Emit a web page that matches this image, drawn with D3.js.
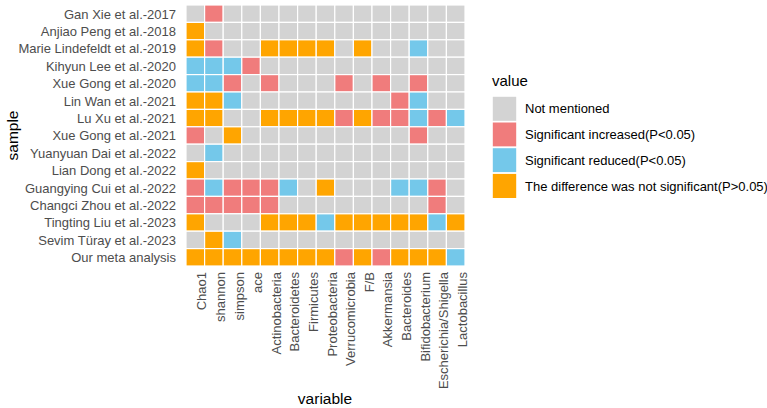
<!DOCTYPE html>
<html>
<head>
<meta charset="utf-8">
<script src="https://cdn.jsdelivr.net/npm/d3@7"></script>
<style>
  body { margin: 0; background: #fff; }
  text { font-family: "Liberation Sans", Arial, sans-serif; }
</style>
</head>
<body>
<svg width="767" height="408"></svg>
<script>
// studies, top to bottom
const samples = [
  "Gan Xie et al.-2017", "Anjiao Peng et al.-2018", "Marie Lindefeldt et al.-2019",
  "Kihyun Lee et al.-2020", "Xue Gong et al.-2020", "Lin Wan et al.-2021",
  "Lu Xu et al.-2021", "Xue Gong et al.-2021", "Yuanyuan Dai et al.-2022",
  "Lian Dong et al.-2022", "Guangying Cui et al.-2022", "Changci Zhou et al.-2022",
  "Tingting Liu et al.-2023", "Sevim Türay et al.-2023", "Our meta analysis"
];
const variables = [
  "Chao1", "shannon", "simpson", "ace", "Actinobacteria", "Bacteroidetes", "Firmicutes",
  "Proteobacteria", "Verrucomicrobia", "F/B", "Akkermansia", "Bacteroides",
  "Bifidobacterium", "Escherichia/Shigella", "Lactobacillus"
];
const levels = [
  "Not mentioned", "Significant increased(P<0.05)",
  "Significant reduced(P<0.05)", "The difference was not significant(P>0.05)"
];
// N = not mentioned, I = increased, R = reduced, D = not significant
const codes = { N: 0, I: 1, R: 2, D: 3 };
const rows = [
  "N I N N N N N N N N N N N N N",
  "D N N N N N N N N N N N N N N",
  "D I N N D D D D N D N N R N N",
  "R R R I N N N N N N N N N N N",
  "R R I N I N N N I N I N I N N",
  "D D R N N N N N N N N I R N N",
  "D D N N D D D D I D I I R I R",
  "I N D N N N N N N N N N I N N",
  "N R N N N N N N N N N N N N N",
  "D N N N N N N N N N N N N N N",
  "I R I I I R N D N N N R R I N",
  "I I I I I N N N N N N N N I N",
  "D N N N D D D R D D D D D R D",
  "N D R N N N N N N N N N N N N",
  "D D D D D D D D I D I D D D R"
];

const data = [];
rows.forEach((r, i) => r.split(" ").forEach((c, j) => {
  data.push({ sample: samples[i], variable: variables[j], value: levels[codes[c]] });
}));

const svg = d3.select("svg");
const x = d3.scaleBand().domain(variables).range([186, 465]);
const y = d3.scaleBand().domain(samples).range([5, 266]);
const color = d3.scaleOrdinal().domain(levels)
  .range(["#D3D3D3", "#F07C7C", "#74C8EA", "#FFA500"]);

// tiles
svg.append("g").selectAll("rect")
  .data(data).enter().append("rect")
  .attr("x", d => x(d.variable))
  .attr("y", d => y(d.sample))
  .attr("width", x.bandwidth())
  .attr("height", y.bandwidth())
  .attr("fill", d => color(d.value))
  .attr("stroke", "#fff")
  .attr("stroke-width", 1.2);

// y labels
svg.append("g").selectAll("text")
  .data(samples).enter().append("text")
  .attr("x", 176)
  .attr("y", d => y(d) + y.bandwidth() / 2)
  .attr("dy", "0.38em")
  .attr("text-anchor", "end")
  .attr("font-size", "13px")
  .attr("fill", "#4D4D4D")
  .text(d => d);

// x labels, rotated
svg.append("g").selectAll("text")
  .data(variables).enter().append("text")
  .attr("transform", d => "translate(" + (x(d) + x.bandwidth() / 2) + ",272) rotate(-90)")
  .attr("x", 0)
  .attr("y", 11)
  .attr("text-anchor", "end")
  .attr("font-size", "13px")
  .attr("fill", "#4D4D4D")
  .text(d => d);

// axis titles
svg.append("text")
  .attr("x", 325).attr("y", 404)
  .attr("text-anchor", "middle")
  .attr("font-size", "15.5px")
  .text("variable");
svg.append("text")
  .attr("transform", "translate(18," + 135.5 + ") rotate(-90)")
  .attr("text-anchor", "middle")
  .attr("font-size", "15.5px")
  .text("sample");

// legend
const legend = svg.append("g").attr("transform", "translate(492,0)");
legend.append("text")
  .attr("x", 0).attr("y", 86)
  .attr("font-size", "15px")
  .text("value");
const key = legend.selectAll("g.key")
  .data(levels).enter().append("g")
  .attr("class", "key")
  .attr("transform", (d, i) => "translate(0," + (96 + i * 25.7) + ")");
key.append("rect")
  .attr("width", 25).attr("height", 25.7)
  .attr("fill", d => color(d))
  .attr("stroke", "#fff")
  .attr("stroke-width", 1.6);
key.append("text")
  .attr("x", 33).attr("y", 12.8)
  .attr("dy", "0.36em")
  .attr("font-size", "13px")
  .text(d => d);
</script>
</body>
</html>
